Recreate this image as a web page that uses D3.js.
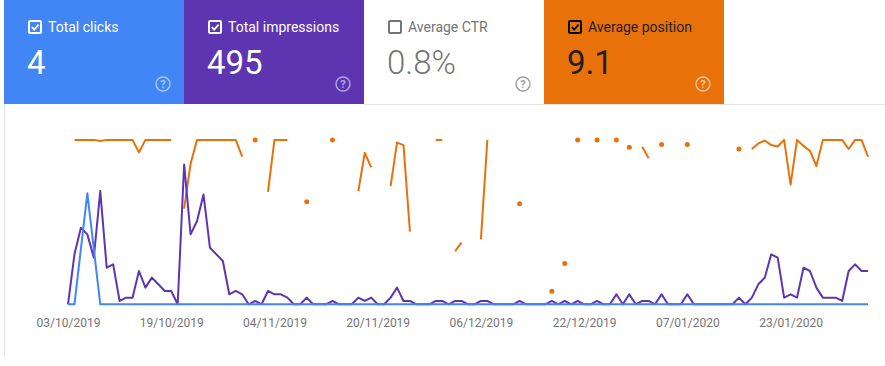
<!DOCTYPE html>
<html>
<head>
<meta charset="utf-8">
<script src="https://cdn.jsdelivr.net/npm/d3@7"></script>
<style>
  html, body { margin: 0; padding: 0; background: #ffffff; }
  svg { display: block; font-family: Roboto, "Noto Sans", Arial, sans-serif; }
</style>
</head>
<body>
<svg id="chart" width="885" height="366"></svg>
<script>
// ---------- DATA ----------
const startDate = new Date(2019, 9, 3);   // first day of the series (03/10/2019)
const dayCount = 125;

const clicks = [0,0,1,2,1,0,0,0,0,0, 0,0,0,0,0,0,0,0,0,0,
  0,0,0,0,0,0,0,0,0,0, 0,0,0,0,0,0,0,0,0,0,
  0,0,0,0,0,0,0,0,0,0, 0,0,0,0,0,0,0,0,0,0,
  0,0,0,0,0,0,0,0,0,0, 0,0,0,0,0,0,0,0,0,0,
  0,0,0,0,0,0,0,0,0,0, 0,0,0,0,0,0,0,0,0,0,
  0,0,0,0,0,0,0,0,0,0, 0,0,0,0,0,0,0,0,0,0,
  0,0,0,0,0];

const impressions = [0,15,23,21,14,34,11,12,1,2,
  2,10,5,8,6,4,4,0,42,21,
  25,33,17,15,13,3,4,3,0,1,
  0,4,3,3,2,0,0,2,0,0,
  0,1,0,0,0,2,1,2,0,0,
  2,5,1,1,0,0,0,1,1,0,
  1,1,0,0,1,1,0,0,0,0,
  1,0,0,0,0,1,0,1,0,1,
  0,0,1,0,0,3,0,3,0,1,
  1,0,3,0,0,0,3,0,0,0,
  0,0,0,0,2,0,2,6,8,15,
  14,2,3,2,11,10,5,2,2,2,
  1,10,12,10,10];

const positions = [null,1,1,1,1,1.5,1,1,1,1,
  1,7,1,1,1,1,1,null,34,12.5,
  1,1,1,1,1,1,1,9,null,1,
  null,26,1,1,1,null,null,30.7,null,null,
  null,1,null,null,null,25.6,7.2,14.2,null,null,
  23.2,2.3,3.5,45.1,null,null,null,1,1,null,
  54.4,50.4,null,null,48.8,1,null,null,null,null,
  31.7,null,null,null,null,73.7,null,60.4,null,1,
  null,null,1,null,null,1,null,4.6,null,4.3,
  9.8,null,3.2,null,null,null,3.2,null,null,null,
  null,null,null,null,5.4,null,5.4,2.7,1.3,3.5,
  4.2,1,22.5,1,3.9,6.2,13.6,1,1,1,
  1,5.4,1,1,9.1];

const tickLabels = ["03/10/2019","19/10/2019","04/11/2019","20/11/2019",
  "06/12/2019","22/12/2019","07/01/2020","23/01/2020"];

const cardTitles = ["Total clicks","Total impressions","Average CTR","Average position"];
const cardValues = ["4","495","0.8%","9.1"];
const cardChecked = [true, true, false, true];

// ---------- LAYOUT ----------
const svg = d3.select("#chart");
const dates = d3.range(dayCount).map(i => d3.timeDay.offset(startDate, i));
const parseTick = d3.timeParse("%d/%m/%Y");
const tickDates = tickLabels.map(parseTick);

const x = d3.scaleTime().domain([dates[0], dates[dayCount - 1]]).range([68, 868]);
const yClicks = d3.scaleLinear().domain([0, 3]).range([304.3, 137.8]);
const yImpr = d3.scaleLinear().domain([0, 50]).range([304.3, 137.8]);
const yPos = d3.scaleLinear().domain([0, 80]).range([137.8, 304.3]);

// left page border
svg.append("line").attr("x1", 4.5).attr("x2", 4.5).attr("y1", 0).attr("y2", 356)
  .attr("stroke", "#e3e3e3").attr("stroke-width", 1);
svg.append("line").attr("x1", 364).attr("x2", 885).attr("y1", 104.5).attr("y2", 104.5)
  .attr("stroke", "#e3e3e3").attr("stroke-width", 1);

// ---------- CARDS ----------
const cardX = [4, 184, 364, 544];
const cardW = 180;
const cardFill = ["#4285f4", "#5e35b1", "#ffffff", "#e8710a"];
const titleColor = ["#ffffff", "#ffffff", "#757575", "#202124"];
const valueColor = ["#ffffff", "#ffffff", "#757575", "#202124"];
const boxColor = ["#ffffff", "#ffffff", "#757575", "#000000"];
const helpColor = ["rgba(255,255,255,0.55)", "rgba(255,255,255,0.55)", "#9e9e9e", "rgba(255,255,255,0.6)"];

cardTitles.forEach((t, i) => {
  const g = svg.append("g").attr("transform", `translate(${cardX[i]},0)`);
  g.append("rect").attr("width", cardW).attr("height", 104).attr("fill", cardFill[i]);
  // checkbox
  g.append("rect").attr("x", 25).attr("y", 21).attr("width", 12).attr("height", 12)
    .attr("rx", 1).attr("fill", "none").attr("stroke", boxColor[i]).attr("stroke-width", 2);
  if (cardChecked[i]) {
    g.append("path").attr("d", "M27.8,27.2 L30.2,29.6 L34.6,24.6")
      .attr("fill", "none").attr("stroke", boxColor[i]).attr("stroke-width", 1.8);
  }
  g.append("text").attr("x", 44).attr("y", 32).attr("font-size", 14)
    .attr("fill", titleColor[i]).text(t);
  g.append("text").attr("x", 23).attr("y", 74).attr("font-size", 33)
    .attr("font-weight", i === 2 ? 300 : 400)
    .attr("fill", valueColor[i]).text(cardValues[i]);
  // help icon
  const hx = 159, hy = 84;
  g.append("circle").attr("cx", hx).attr("cy", hy).attr("r", 7)
    .attr("fill", "none").attr("stroke", helpColor[i]).attr("stroke-width", 1.4);
  g.append("text").attr("x", hx).attr("y", hy + 4).attr("text-anchor", "middle")
    .attr("font-size", 11).attr("font-weight", 700).attr("fill", helpColor[i]).text("?");
});

// ---------- SERIES ----------
const posLine = d3.line()
  .defined(d => d.v != null)
  .x(d => x(d.date)).y(d => yPos(d.v));
const posData = dates.map((date, i) => ({date, v: positions[i]}));
svg.append("path").datum(posData).attr("d", posLine)
  .attr("fill", "none").attr("stroke", "#e8710a").attr("stroke-width", 2)
  .attr("stroke-linejoin", "round");
// isolated points
svg.append("g").selectAll("circle")
  .data(posData.filter((d, i) => d.v != null &&
    (i === 0 || positions[i - 1] == null) && (i === dayCount - 1 || positions[i + 1] == null)))
  .join("circle")
  .attr("cx", d => x(d.date)).attr("cy", d => yPos(d.v)).attr("r", 2.5)
  .attr("fill", "#e8710a");

const imprLine = d3.line().x((d, i) => x(dates[i])).y(d => yImpr(d));
svg.append("path").datum(impressions).attr("d", imprLine)
  .attr("fill", "none").attr("stroke", "#5e35b1").attr("stroke-width", 2)
  .attr("stroke-linejoin", "round");

const clickLine = d3.line().x((d, i) => x(dates[i])).y(d => yClicks(d));
svg.append("path").datum(clicks).attr("d", clickLine)
  .attr("fill", "none").attr("stroke", "#4285f4").attr("stroke-width", 2)
  .attr("stroke-linejoin", "round");

// ---------- X AXIS ----------
const xAxis = d3.axisBottom(x)
  .tickValues(tickDates)
  .tickFormat((d, i) => tickLabels[i])
  .tickSize(0).tickPadding(0);
const ax = svg.append("g").attr("transform", "translate(0,318)").call(xAxis);
ax.select(".domain").remove();
ax.selectAll("text").attr("font-size", 12).attr("fill", "#757575")
  .attr("font-family", "Roboto, sans-serif").attr("dy", "0.75em");
</script>
</body>
</html>
